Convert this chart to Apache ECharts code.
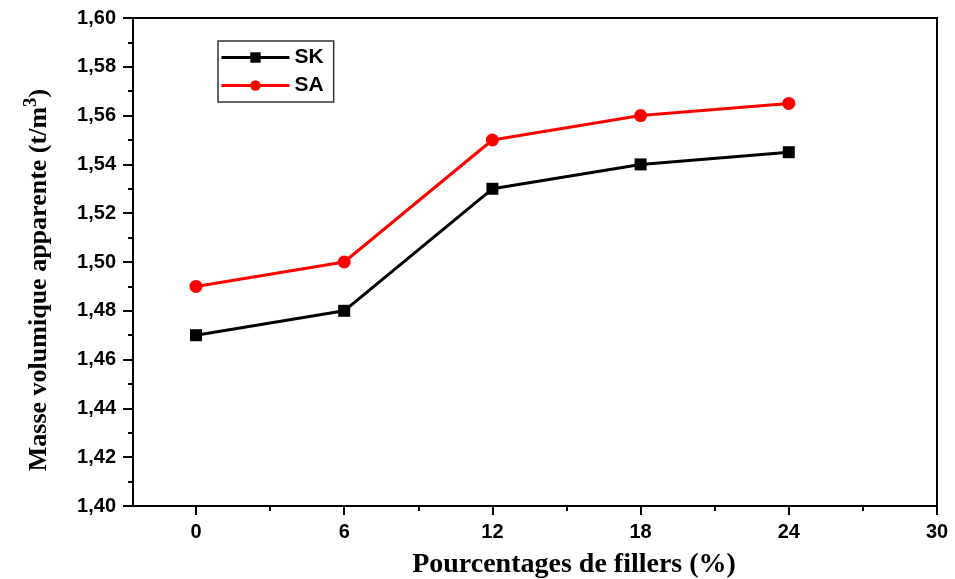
<!DOCTYPE html>
<html><head><meta charset="utf-8">
<script src="https://cdn.jsdelivr.net/npm/echarts@6/dist/echarts.min.js"></script>
<style>html,body{margin:0;padding:0;background:#fff}#c{width:955px;height:579px}</style>
</head><body><div id="c"></div>
<script>
const xValues = [0, 6, 12, 18, 24];
const skValues = [1.47, 1.48, 1.53, 1.54, 1.545];
const saValues = [1.49, 1.50, 1.55, 1.56, 1.565];
const xMajorTicks = [0, 6, 12, 18, 24, 30];
const xMinorTicks = [3, 9, 15, 21, 27];
const xMin = -2.55, xMax = 30;

const chart = echarts.init(document.getElementById('c'));
const labelFont = {fontFamily: 'Liberation Sans, Arial', fontWeight: 'bold', fontSize: 20, color: '#000'};
chart.setOption({
  animation: false,
  grid: {left: 133, top: 18, right: 18, bottom: 73, show: true, borderColor: '#000', borderWidth: 2, containLabel: false, outerBoundsMode: 'none'},
  legend: {
    orient: 'vertical', left: 218, top: 41, itemWidth: 68, itemHeight: 13, itemGap: 7,
    padding: [6, 10, 6, 2],
    borderColor: '#333', borderWidth: 1.5,
    lineStyle: {width: 3},
    textStyle: {fontFamily: 'Liberation Sans, Arial', fontWeight: 'bold', fontSize: 21, color: '#000'},
    data: ['SK', 'SA']
  },
  xAxis: [{
    type: 'value', min: xMin, max: xMax,
    name: 'Pourcentages de fillers (%)', nameLocation: 'middle', nameGap: 45,
    nameTextStyle: {fontFamily: 'Liberation Serif, Times New Roman', fontWeight: 'bold', fontSize: 28, color: '#000', padding: [0, 0, 0, 78]},
    axisLine: {show: true, onZero: false, lineStyle: {color: '#000', width: 2}},
    axisTick: {show: true, inside: false, length: 9, lineStyle: {color: '#000', width: 2}, customValues: xMajorTicks},
    axisLabel: Object.assign({margin: 16, customValues: xMajorTicks}, labelFont),
    splitLine: {show: false}
  }, {
    type: 'value', min: xMin, max: xMax, position: 'bottom',
    axisLine: {show: false, onZero: false},
    axisTick: {show: true, inside: false, length: 5, lineStyle: {color: '#000', width: 2}, customValues: xMinorTicks},
    axisLabel: {show: false, customValues: xMinorTicks},
    splitLine: {show: false}
  }],
  yAxis: {
    type: 'value', min: 1.40, max: 1.60, interval: 0.02,
    name: 'Masse volumique apparente (t/m{sup|3})', nameLocation: 'middle', nameGap: 76, nameRotate: 90,
    nameTextStyle: {fontFamily: 'Liberation Serif, Times New Roman', fontWeight: 'bold', fontSize: 26, color: '#000', padding: [0, 36, 0, 0],
      rich: {sup: {fontFamily: 'Liberation Serif, Times New Roman', fontWeight: 'bold', fontSize: 19, color: '#000', verticalAlign: 'top', padding: [0, 0, 16, 0]}}},
    axisLine: {show: true, onZero: false, lineStyle: {color: '#000', width: 2}},
    axisTick: {show: true, inside: false, length: 10, lineStyle: {color: '#000', width: 2}},
    minorTick: {show: true, splitNumber: 2, length: 5, lineStyle: {color: '#000', width: 2}},
    axisLabel: Object.assign({margin: 17, formatter: v => v.toFixed(2).replace('.', ',')}, labelFont),
    splitLine: {show: false}
  },
  series: [{
    name: 'SK', type: 'line', data: xValues.map((x, i) => [x, skValues[i]]),
    symbol: 'rect', symbolSize: 12, itemStyle: {color: '#000'}, lineStyle: {color: '#000', width: 3}
  }, {
    name: 'SA', type: 'line', data: xValues.map((x, i) => [x, saValues[i]]),
    symbol: 'circle', symbolSize: 13, itemStyle: {color: '#ff0000'}, lineStyle: {color: '#ff0000', width: 3}
  }]
});
</script></body></html>
